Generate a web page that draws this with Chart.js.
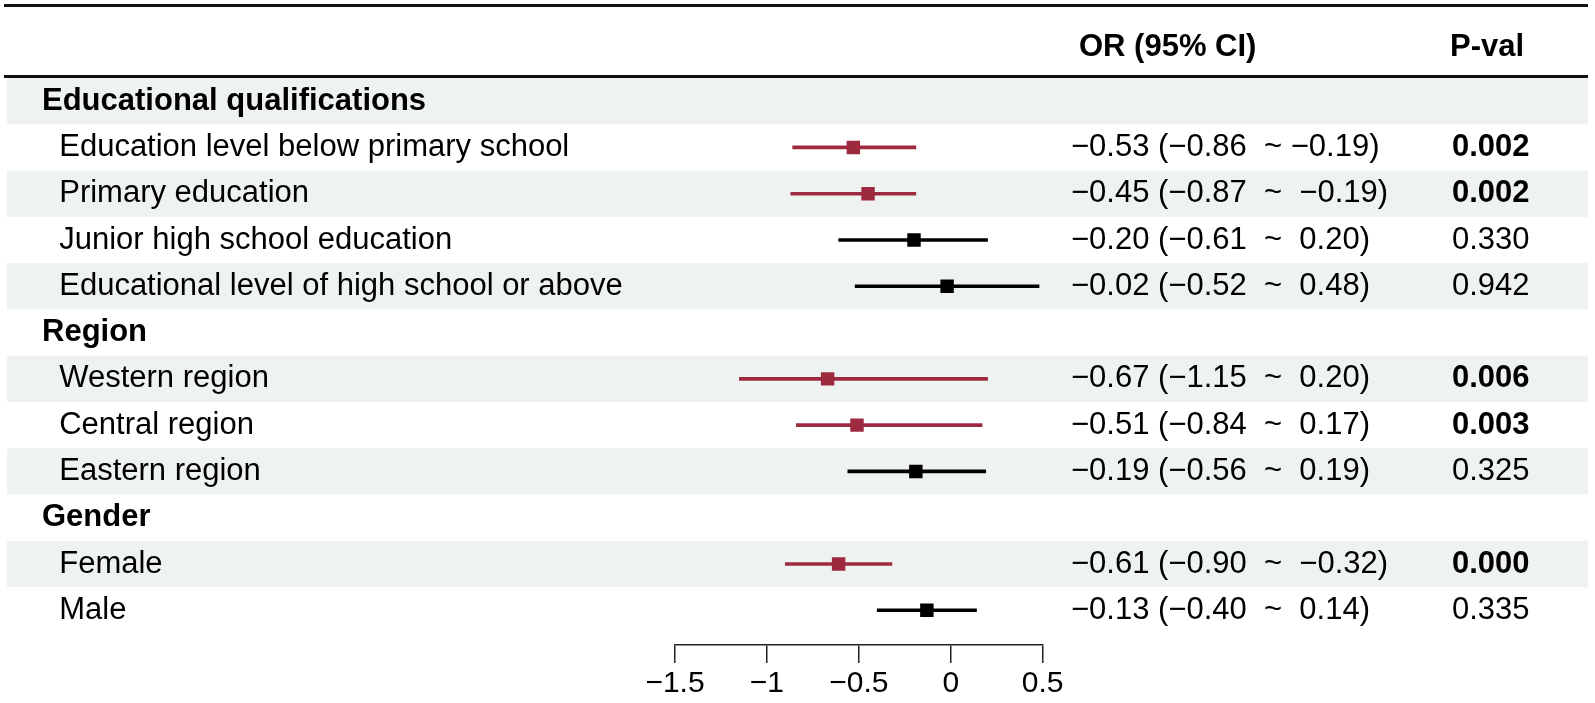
<!DOCTYPE html>
<html>
<head>
<meta charset="utf-8">
<title>Forest plot</title>
<script src="https://cdn.jsdelivr.net/npm/chart.js@4.4.1/dist/chart.umd.min.js"></script>
<style>
html, body { margin: 0; padding: 0; background: #fff; }
#wrap { width: 1595px; height: 703px; }
</style>
</head>
<body>
<div id="wrap"><canvas id="forest" width="1595" height="703"></canvas></div>
<script>
// rows of the table, top to bottom
const rowLabels = [
    'Educational qualifications',
    'Education level below primary school',
    'Primary education',
    'Junior high school education',
    'Educational level of high school or above',
    'Region',
    'Western region',
    'Central region',
    'Eastern region',
    'Gender',
    'Female',
    'Male'
];
const isGroup = [true, false, false, false, false, true, false, false, false, true, false, false];

const estimates = [null, -0.53, -0.45, -0.20, -0.02, null, -0.67, -0.51, -0.19, null, -0.61, -0.13];
const lowerCI   = [null, -0.86, -0.87, -0.61, -0.52, null, -1.15, -0.84, -0.56, null, -0.90, -0.40];
const upperCI   = [null, -0.19, -0.19,  0.20,  0.48, null,  0.20,  0.17,  0.19, null, -0.32,  0.14];
const pValues   = ['', '0.002', '0.002', '0.330', '0.942', '', '0.006', '0.003', '0.325', '', '0.000', '0.335'];

const ciLabels = [
    '',
    '\u22120.53 (\u22120.86  ~ \u22120.19)',
    '\u22120.45 (\u22120.87  ~  \u22120.19)',
    '\u22120.20 (\u22120.61  ~  0.20)',
    '\u22120.02 (\u22120.52  ~  0.48)',
    '',
    '\u22120.67 (\u22121.15  ~  0.20)',
    '\u22120.51 (\u22120.84  ~  0.17)',
    '\u22120.19 (\u22120.56  ~  0.19)',
    '',
    '\u22120.61 (\u22120.90  ~  \u22120.32)',
    '\u22120.13 (\u22120.40  ~  0.14)'
];

const xTicks = [-1.5, -1, -0.5, 0, 0.5];

const FUENTE = "'Liberation Sans', Arial, Helvetica, sans-serif";
const ROJO = '#9e2a40';
const NEGRO = '#000000';
const BANDA = '#eef2f1';

// only rows that carry an estimate
const filas = [];
estimates.forEach((v, i) => { if (v !== null) filas.push(i); });

function esSignificativo(i) {
    return pValues[i] !== '' && parseFloat(pValues[i]) < 0.05;
}

function colorFila(i) {
    return esSignificativo(i) ? ROJO : NEGRO;
}

function formatoEje(v) {
    return (v < 0 ? '\u2212' : '') + Math.abs(v);
}

const tablaPlugin = {
    id: 'tabla',
    beforeDraw(chart) {
        const ctx = chart.ctx;
        const y = chart.scales.y;
        ctx.save();
        ctx.fillStyle = '#fff';
        ctx.fillRect(0, 0, chart.width, chart.height);
        // zebra bands
        ctx.fillStyle = BANDA;
        rowLabels.forEach((_, i) => {
            if (i % 2 !== 0) return;
            const top = y.getPixelForValue(i - 0.5);
            const bot = y.getPixelForValue(i + 0.5);
            ctx.fillRect(7, top, 1588 - 7, bot - top);
        });
        ctx.restore();
    },
    afterDraw(chart) {
        const ctx = chart.ctx;
        const y = chart.scales.y;
        ctx.save();
        // rules
        ctx.fillStyle = '#111';
        ctx.fillRect(4, 4, 1584, 3);
        ctx.fillRect(4, 75, 1584, 3);

        ctx.fillStyle = '#000';
        ctx.textBaseline = 'middle';
        ctx.textAlign = 'left';
        ctx.font = 'bold 31px ' + FUENTE;
        ctx.fillText('OR (95% CI)', 1079, 47);
        ctx.fillText('P-val', 1450, 47);

        ciLabels.forEach((t, i) => {
            if (!t) return;
            const yy = y.getPixelForValue(i);
            ctx.font = '31px ' + FUENTE;
            ctx.fillText(t, 1071, yy);
            ctx.font = (esSignificativo(i) ? 'bold ' : '') + '31px ' + FUENTE;
            ctx.fillText(pValues[i], 1452, yy);
        });
        ctx.restore();
    }
};

const ctx = document.getElementById('forest').getContext('2d');
const chart = new Chart(ctx, {
    type: 'scatter',
    data: {
        datasets: [
            {
                type: 'scatter',
                label: 'OR',
                data: filas.map(i => ({ x: estimates[i], y: i })),
                pointStyle: 'rect',
                pointRadius: 9.5,
                pointHoverRadius: 9.5,
                backgroundColor: filas.map(colorFila),
                borderColor: filas.map(colorFila),
                borderWidth: 0,
                order: 0
            },
            {
                type: 'bar',
                label: '95% CI',
                indexAxis: 'y',
                data: filas.map(i => ({ x: [lowerCI[i], upperCI[i]], y: i })),
                backgroundColor: filas.map(colorFila),
                borderWidth: 0,
                barThickness: 3,
                grouped: false,
                order: 1
            }
        ]
    },
    options: {
        responsive: false,
        animation: false,
        events: [],
        layout: { padding: { left: 42, right: 1595 - 1042.7, top: 78, bottom: 0 } },
        plugins: {
            legend: { display: false },
            tooltip: { enabled: false }
        },
        scales: {
            x: {
                type: 'linear',
                position: 'bottom',
                min: -1.5,
                max: 0.5,
                offset: false,
                afterBuildTicks: s => { s.ticks = xTicks.map(v => ({ value: v })); },
                afterFit: s => { s.height = 58; },
                ticks: {
                    autoSkip: false,
                    maxRotation: 0,
                    padding: 3,
                    color: '#000',
                    font: { family: FUENTE, size: 30 },
                    callback: v => formatoEje(v)
                },
                grid: {
                    offset: false,
                    drawOnChartArea: false,
                    drawTicks: true,
                    tickLength: 18,
                    color: '#222',
                    lineWidth: 1.5
                },
                border: { display: true, color: '#222', width: 1.5 }
            },
            y: {
                type: 'linear',
                reverse: true,
                offset: false,
                min: -0.5,
                max: 11.75,
                afterBuildTicks: s => { s.ticks = rowLabels.map((_, i) => ({ value: i })); },
                afterFit: s => { s.width = 675 - 42; },
                ticks: {
                    autoSkip: false,
                    crossAlign: 'far',
                    padding: 0,
                    color: '#000',
                    font: c => ({ family: FUENTE, size: 31, weight: isGroup[c.index] ? 'bold' : 'normal' }),
                    callback: (v, i) => (isGroup[i] ? '' : '  ') + rowLabels[i]
                },
                grid: { display: false, offset: false, drawTicks: false },
                border: { display: false }
            }
        }
    },
    plugins: [tablaPlugin]
});
</script>
</body>
</html>
